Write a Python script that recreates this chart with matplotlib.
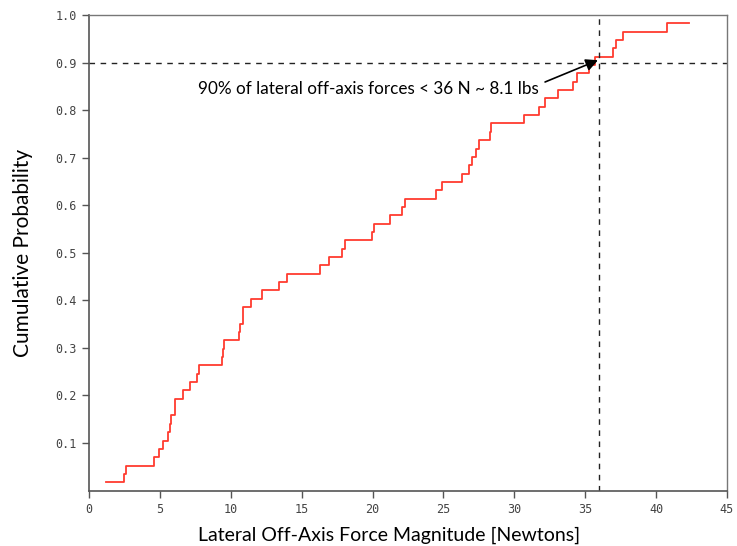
import numpy as np
import matplotlib.pyplot as plt

# sorted lateral off-axis force samples [N], read from the empirical CDF
forces = [1.2, 2.45, 2.61, 4.6, 4.94, 5.24, 5.6, 5.71, 5.8, 6.06,
          6.06, 6.65, 7.14, 7.6, 7.78, 9.36, 9.45, 9.54, 10.58, 10.67,
          10.86, 10.86, 11.42, 12.18, 13.4, 13.96, 16.29, 16.95, 17.82, 18.05,
          19.94, 20.1, 21.23, 22.11, 22.28, 24.45, 24.92, 26.3, 26.8, 27.03,
          27.27, 27.52, 28.28, 28.35, 30.7, 31.76, 32.16, 33.05, 34.15, 34.44,
          35.28, 35.66, 36.97, 37.14, 37.64, 40.78, 42.33]
x_ticks = [0, 5, 10, 15, 20, 25, 30, 35, 40, 45]
y_ticks = [0.1, 0.2, 0.3, 0.4, 0.5, 0.6, 0.7, 0.8, 0.9, 1.0]
p90_force = 36
p90_level = 0.9

n = len(forces)
levels = np.arange(1, n + 1) / n
# last jump to 1.0 is not drawn in the original
levels[-1] = levels[-2]

fig = plt.figure(figsize=(7.37, 5.46), dpi=100)
ax = fig.add_axes([0.1208, 0.1015, 0.8656, 0.871])

ax.step(forces, levels, where='post', color='#ff3b2f', lw=1.3)

ax.axhline(p90_level, color='#222222', ls=(0, (4, 4)), lw=1.0)
ax.axvline(p90_force, color='#222222', ls=(0, (4, 4)), lw=1.0)

ax.annotate('90% of lateral off-axis forces < 36 N ~ 8.1 lbs',
            xy=(35.9, 0.905), xytext=(31.7, 0.845),
            ha='right', va='center', fontsize=12.3, family='Lato',
            arrowprops=dict(arrowstyle='-|>', color='black', lw=1.2,
                            mutation_scale=18, shrinkA=3, shrinkB=0,
                            relpos=(1.0, 0.75)))

ax.set_xlim(0, 45)
ax.set_ylim(0, 1.0)
ax.set_xticks(x_ticks)
ax.set_yticks(y_ticks)
ax.set_xticklabels([str(t) for t in x_ticks], family='DejaVu Sans Mono', fontsize=8.5, color='#444444')
ax.set_yticklabels(['%.1f' % t for t in y_ticks], family='DejaVu Sans Mono', fontsize=8.5, color='#444444')
ax.tick_params(direction='out', length=5, width=1, color='#555555', pad=4)

for side in ['left', 'bottom']:
    ax.spines[side].set_color('#555555')
    ax.spines[side].set_linewidth(1.2)
for side in ['top', 'right']:
    ax.spines[side].set_color('#777777')
    ax.spines[side].set_linewidth(1.0)

ax.set_xlabel('Lateral Off-Axis Force Magnitude [Newtons]', family='Lato', fontsize=14, labelpad=8)
ax.xaxis.set_label_coords(0.47, -0.075)
ax.set_ylabel('Cumulative Probability', family='Lato', fontsize=15, labelpad=16)

fig.savefig('out.png', dpi=100)
